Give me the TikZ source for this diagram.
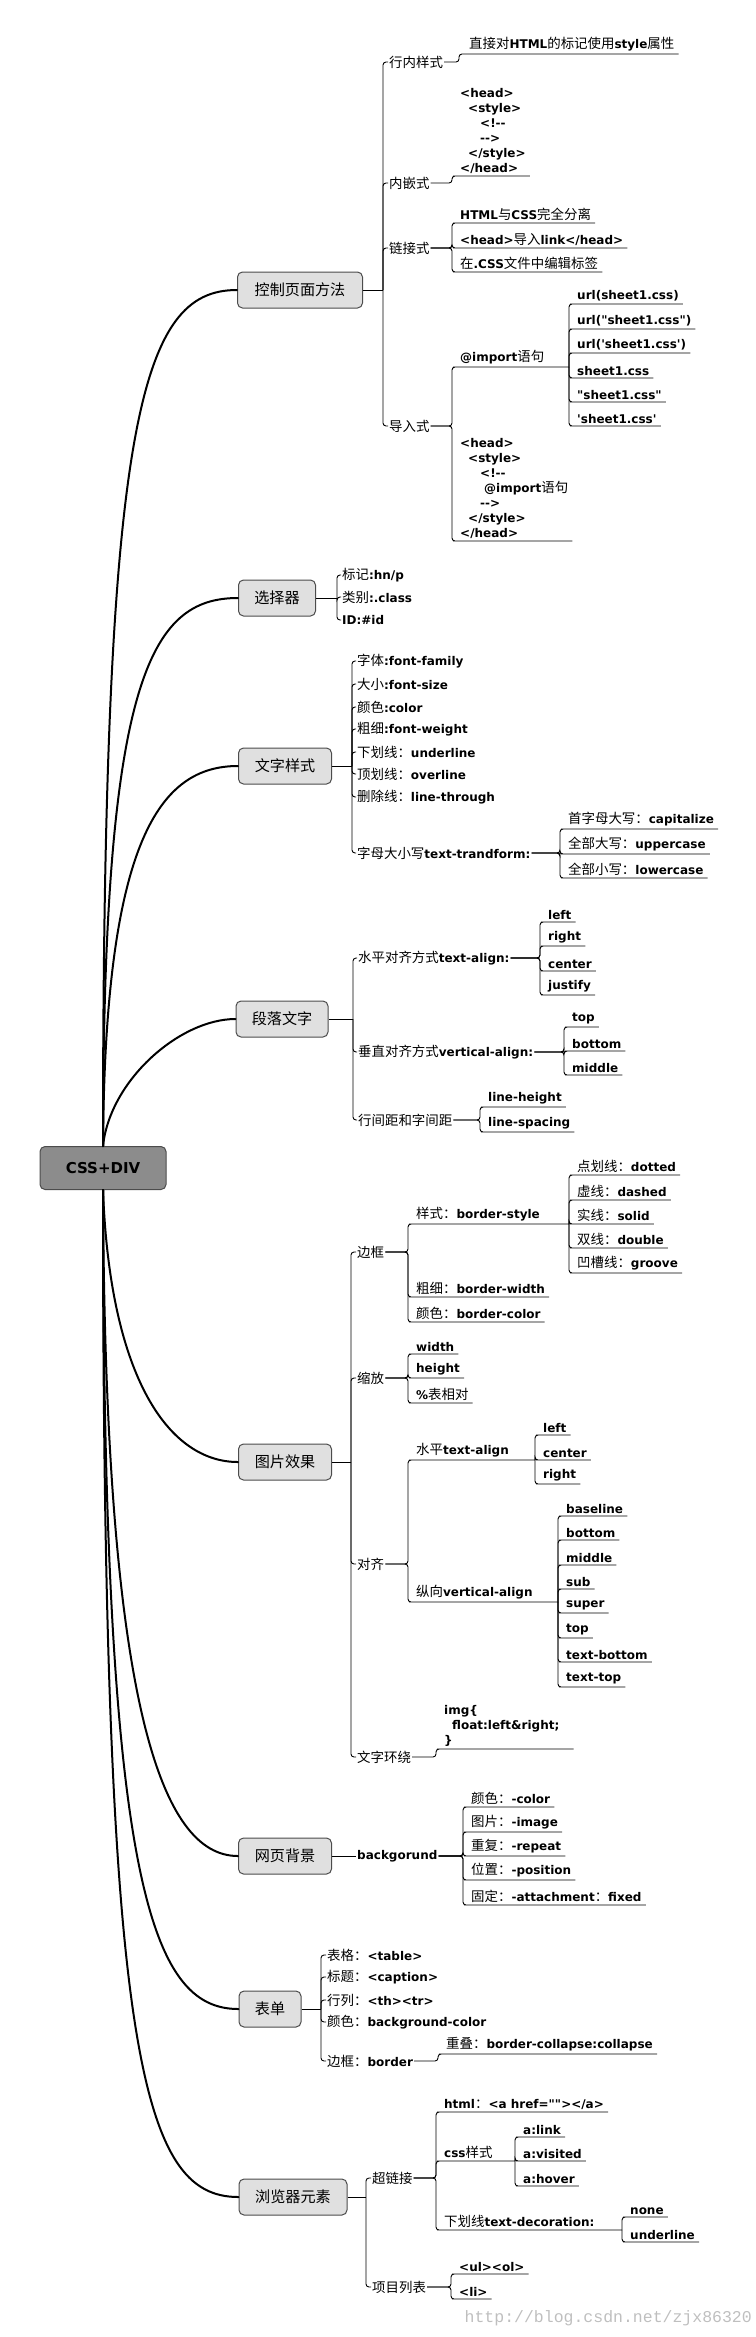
\documentclass[tikz,border=0pt]{standalone}
\usepackage{fontspec}
\setmainfont{DejaVu Sans}[Ligatures=TeXOff]
\newfontfamily\cjkfont{Noto Sans CJK SC}[Scale=1.12]
\newfontfamily\wmfont{Liberation Mono}
\newcommand\lf{\fontsize{12}{15}\selectfont\bfseries}
\newcommand\bxf{\fontsize{13.5}{16}\selectfont}
\newcount\mycnt
\newXeTeXintercharclass\mycjk
\def\setcls#1#2{\mycnt=#1\relax\loop\XeTeXcharclass\mycnt=\mycjk\relax\ifnum\mycnt<#2\advance\mycnt by 1\repeat}
\setcls{"3000}{"303F}
\setcls{"4E00}{"9FFF}
\setcls{"FF00}{"FFEF}
\XeTeXinterchartoks 0 \mycjk = {\begingroup\cjkfont\mdseries}
\XeTeXinterchartoks 4095 \mycjk = {\begingroup\cjkfont\mdseries}
\XeTeXinterchartoks \mycjk 0 = {\endgroup}
\XeTeXinterchartoks \mycjk 4095 = {\endgroup}
\tikzset{
  con/.style={draw, line width=0.9pt, rounded corners=3pt},
  main/.style={line width=2pt, line cap=round},
  box/.style={draw=black!70, line width=1pt, rounded corners=5pt, fill=black!12, minimum height=36pt, inner sep=2pt, font=\bxf},
  lab/.style={anchor=west, inner sep=1pt, font=\lf},
  lf/.style={anchor=south west, inner xsep=4pt, inner ysep=2.5pt, font=\lf},
  code/.style={lf, align=left},
}
\begin{document}
\XeTeXinterchartokenstate=1
\begin{tikzpicture}[x=1pt,y=-1pt]
\useasboundingbox (0,0) rectangle (755,2337);
% boxes
\node[box, fill=black!45, font=\fontsize{15}{18}\selectfont\bfseries, minimum width=126pt, minimum height=43pt] (root) at (103,1168) {CSS+DIV};
\node[box, minimum width=125pt] (ctrl) at (300,290) {控制页面方法};
\node[box, minimum width=77pt] (sel) at (277,598) {选择器};
\node[box, minimum width=93pt] (txt) at (285,766) {文字样式};
\node[box, minimum width=92pt] (par) at (282,1019) {段落文字};
\node[box, minimum width=93pt] (img) at (285,1462) {图片效果};
\node[box, minimum width=93pt] (bg) at (285,1856) {网页背景};
\node[box, minimum width=62pt] (form) at (270,2009) {表单};
\node[box, minimum width=108pt] (brw) at (293,2197) {浏览器元素};
% main curves
\draw[main] (root.north) .. controls (103,420) and (140,290) .. (ctrl.west);
\draw[main] (root.north) .. controls (103,680) and (150,598) .. (sel.west);
\draw[main] (root.north) .. controls (105,840) and (160,766) .. (txt.west);
\draw[main] (root.north) .. controls (110,1080) and (180,1019) .. (par.west);
\draw[main] (root.south) .. controls (110,1380) and (170,1462) .. (img.west);
\draw[main] (root.south) .. controls (105,1700) and (160,1856) .. (bg.west);
\draw[main] (root.south) .. controls (103,1880) and (150,2009) .. (form.west);
\draw[main] (root.south) .. controls (103,2050) and (140,2197) .. (brw.west);
% ===== 控制页面方法
\node[lab] (c1) at (388,62) {行内样式};
\node[lab] (c2) at (388,183) {内嵌式};
\node[lab] (c3) at (388,248) {链接式};
\node[lab] (c4) at (388,426) {导入式};
\draw[con] (ctrl.east) -- (383,290);
\foreach \n in {c1,c2,c3,c4} \draw[con] (383,290) |- (\n.west);
\node[lf] (c11) at (465,54) {直接对HTML的标记使用style属性};
\draw[con] (c1.east) -- (459,62) |- (c11.south west) -- (c11.south east);
\node[code] (c21) at (456,176) {<head>\\\hspace*{8pt}<style>\\\hspace*{20pt}<!--\\\hspace*{20pt}-->\\\hspace*{8pt}</style>\\</head>};
\draw[con] (c2.east) -- (452,183) |- (c21.south west) -- (c21.south east);
\node[lf] (c31) at (456,223) {HTML与CSS完全分离};
\node[lf] (c32) at (456,248) {<head>导入link</head>};
\node[lf] (c33) at (456,272) {在.CSS文件中编辑标签};
\foreach \n in {c31,c32,c33} \draw[con] (c3.east) -- (452,248) |- (\n.south west) -- (\n.south east);
\node[lf] (c41) at (456,367) {@import语句};
\node[code] (c42) at (456,541) {<head>\\\hspace*{8pt}<style>\\\hspace*{20pt}<!--\\\hspace*{24pt}@import语句\\\hspace*{20pt}-->\\\hspace*{8pt}</style>\\</head>};
\draw[con] (c4.east) -- (452,426) |- (c41.south west) -- (569,367);
\draw[con] (c4.east) -- (452,426) |- (c42.south west) -- (c42.south east);
\node[lf] (c4a) at (573,304) {url(sheet1.css)};
\node[lf] (c4b) at (573,329) {url("sheet1.css")};
\node[lf] (c4c) at (573,353) {url('sheet1.css')};
\node[lf] (c4d) at (573,378) {sheet1.css};
\node[lf] (c4e) at (573,402) {"sheet1.css"};
\node[lf] (c4f) at (573,426) {'sheet1.css'};
\foreach \n in {c4a,c4b,c4c,c4d,c4e,c4f} \draw[con] (569,367) |- (\n.south west) -- (\n.south east);
% ===== 选择器
\node[lab] (s1) at (341,575) {标记:hn/p};
\node[lab] (s2) at (341,597) {类别:.class};
\node[lab] (s3) at (341,620) {ID:\#id};
\draw[con] (sel.east) -- (337,598);
\foreach \n in {s1,s2,s3} \draw[con] (337,598) |- (\n.west);
% ===== 文字样式
\node[lab] (t1) at (356,661) {字体:font-family};
\node[lab] (t2) at (356,684) {大小:font-size};
\node[lab] (t3) at (356,707) {颜色:color};
\node[lab] (t4) at (356,729) {粗细:font-weight};
\node[lab] (t5) at (356,752) {下划线：underline};
\node[lab] (t6) at (356,774) {顶划线：overline};
\node[lab] (t7) at (356,797) {删除线：line-through};
\node[lab] (t8) at (356,853) {字母大小写text-trandform:};
\draw[con] (txt.east) -- (352,766);
\foreach \n in {t1,t2,t3,t4,t5,t6,t7,t8} \draw[con] (352,766) |- (\n.west);
\node[lf] (t81) at (564,829) {首字母大写：capitalize};
\node[lf] (t82) at (564,854) {全部大写：uppercase};
\node[lf] (t83) at (564,878) {全部小写：lowercase};
\foreach \n in {t81,t82,t83} \draw[con] (t8.east) -- (560,853) |- (\n.south west) -- (\n.south east);
% ===== 段落文字
\node[lab] (p1) at (357,958) {水平对齐方式text-align:};
\node[lab] (p2) at (357,1052) {垂直对齐方式vertical-align:};
\node[lab] (p3) at (357,1120) {行间距和字间距};
\draw[con] (par.east) -- (353,1019);
\foreach \n in {p1,p2,p3} \draw[con] (353,1019) |- (\n.west);
\node[lf] (p11) at (544,922) {left};
\node[lf] (p12) at (544,946) {right};
\node[lf] (p13) at (544,971) {center};
\node[lf] (p14) at (544,995) {justify};
\foreach \n in {p11,p12,p13,p14} \draw[con] (p1.east) -- (540,958) |- (\n.south west) -- (\n.south east);
\node[lf] (p21) at (568,1027) {top};
\node[lf] (p22) at (568,1051) {bottom};
\node[lf] (p23) at (568,1075) {middle};
\foreach \n in {p21,p22,p23} \draw[con] (p2.east) -- (564,1052) |- (\n.south west) -- (\n.south east);
\node[lf] (p31) at (484,1107) {line-height};
\node[lf] (p32) at (484,1132) {line-spacing};
\foreach \n in {p31,p32} \draw[con] (p3.east) -- (480,1120) |- (\n.south west) -- (\n.south east);
% ===== 图片效果
\node[lab] (i1) at (356,1252) {边框};
\node[lab] (i2) at (356,1378) {缩放};
\node[lab] (i3) at (356,1564) {对齐};
\node[lab] (i4) at (356,1757) {文字环绕};
\draw[con] (img.east) -- (351,1462);
\foreach \n in {i1,i2,i3,i4} \draw[con] (351,1462) |- (\n.west);
\node[lf] (i11) at (412,1224) {样式：border-style};
\node[lf] (i12) at (412,1297) {粗细：border-width};
\node[lf] (i13) at (412,1322) {颜色：border-color};
\draw[con] (i1.east) -- (408,1252) |- (i11.south west) -- (569,1224);
\foreach \n in {i12,i13} \draw[con] (i1.east) -- (408,1252) |- (\n.south west) -- (\n.south east);
\node[lf] (i1a) at (573,1175) {点划线：dotted};
\node[lf] (i1b) at (573,1200) {虚线：dashed};
\node[lf] (i1c) at (573,1224) {实线：solid};
\node[lf] (i1d) at (573,1248) {双线：double};
\node[lf] (i1e) at (573,1273) {凹槽线：groove};
\foreach \n in {i1a,i1b,i1c,i1d,i1e} \draw[con] (569,1224) |- (\n.south west) -- (\n.south east);
\node[lf] (i21) at (412,1354) {width};
\node[lf] (i22) at (412,1378) {height};
\node[lf] (i23) at (412,1403) {\%表相对};
\foreach \n in {i21,i22,i23} \draw[con] (i2.east) -- (408,1378) |- (\n.south west) -- (\n.south east);
\node[lf] (i31) at (412,1460) {水平text-align};
\node[lf] (i32) at (412,1602) {纵向vertical-align};
\draw[con] (i3.east) -- (408,1564) |- (i31.south west) -- (535,1460);
\draw[con] (i3.east) -- (408,1564) |- (i32.south west) -- (558,1602);
\node[lf] (i3a) at (539,1435) {left};
\node[lf] (i3b) at (539,1460) {center};
\node[lf] (i3c) at (539,1484) {right};
\foreach \n in {i3a,i3b,i3c} \draw[con] (535,1460) |- (\n.south west) -- (\n.south east);
\node[lf] (v1) at (562,1516) {baseline};
\node[lf] (v2) at (562,1540) {bottom};
\node[lf] (v3) at (562,1565) {middle};
\node[lf] (v4) at (562,1589) {sub};
\node[lf] (v5) at (562,1613) {super};
\node[lf] (v6) at (562,1638) {top};
\node[lf] (v7) at (562,1662) {text-bottom};
\node[lf] (v8) at (562,1687) {text-top};
\foreach \n in {v1,v2,v3,v4,v5,v6,v7,v8} \draw[con] (558,1602) |- (\n.south west) -- (\n.south east);
\node[code] (i41) at (440,1749) {img\{\\\hspace*{8pt}float:left\&right;\\\}};
\draw[con] (i4.east) -- (436,1757) |- (i41.south west) -- ([xshift=10pt]i41.south east);
% ===== 网页背景
\node[lab] (g0) at (356,1856) {backgorund};
\draw[con] (bg.east) -- (g0.west);
\node[lf] (g1) at (467,1807) {颜色：-color};
\node[lf] (g2) at (467,1832) {图片：-image};
\node[lf] (g3) at (467,1856) {重复：-repeat};
\node[lf] (g4) at (467,1880) {位置：-position};
\node[lf] (g5) at (467,1905) {固定：-attachment：fixed};
\foreach \n in {g1,g2,g3,g4,g5} \draw[con] (g0.east) -- (463,1856) |- (\n.south west) -- (\n.south east);
% ===== 表单
\node[lab] (f1) at (326,1955) {表格：<table>};
\node[lab] (f2) at (326,1977) {标题：<caption>};
\node[lab] (f3) at (326,2000) {行列：<th><tr>};
\node[lab] (f4) at (326,2022) {颜色：background-color};
\node[lab] (f5) at (326,2061) {边框：border};
\draw[con] (form.east) -- (321,2009);
\foreach \n in {f1,f2,f3,f4,f5} \draw[con] (321,2009) |- (\n.west);
\node[lf] (f51) at (442,2054) {重叠：border-collapse:collapse};
\draw[con] (f5.east) -- (438,2061) |- (f51.south west) -- (f51.south east);
% ===== 浏览器元素
\node[lab] (b1) at (371,2178) {超链接};
\node[lab] (b2) at (371,2287) {项目列表};
\draw[con] (brw.east) -- (366,2197);
\foreach \n in {b1,b2} \draw[con] (366,2197) |- (\n.west);
\node[lf] (b11) at (440,2112) {html：<a href=""></a>};
\node[lf] (b12) at (440,2161) {css样式};
\node[lf] (b13) at (440,2230) {下划线text-decoration:};
\draw[con] (b1.east) -- (436,2178) |- (b11.south west) -- (b11.south east);
\draw[con] (b1.east) -- (436,2178) |- (b12.south west) -- (515,2161);
\draw[con] (b1.east) -- (436,2178) |- (b13.south west) -- (622,2230);
\node[lf] (b1a) at (519,2137) {a:link};
\node[lf] (b1b) at (519,2161) {a:visited};
\node[lf] (b1c) at (519,2186) {a:hover};
\foreach \n in {b1a,b1b,b1c} \draw[con] (515,2161) |- (\n.south west) -- (\n.south east);
\node[lf] (b1d) at (626,2217) {none};
\node[lf] (b1e) at (626,2242) {underline};
\foreach \n in {b1d,b1e} \draw[con] (622,2230) |- (\n.south west) -- (\n.south east);
\node[lf] (b21) at (455,2274) {<ul><ol>};
\node[lf] (b22) at (455,2299) {<li>};
\foreach \n in {b21,b22} \draw[con] (b2.east) -- (451,2287) |- (\n.south west) -- (\n.south east);
% watermark
\node[anchor=east, inner sep=0pt, text=black!25, font=\wmfont\fontsize{16.5}{18}\selectfont] (wm) at (752,2318) {http://blog.csdn.net/zjx86320};
\end{tikzpicture}
\end{document}
